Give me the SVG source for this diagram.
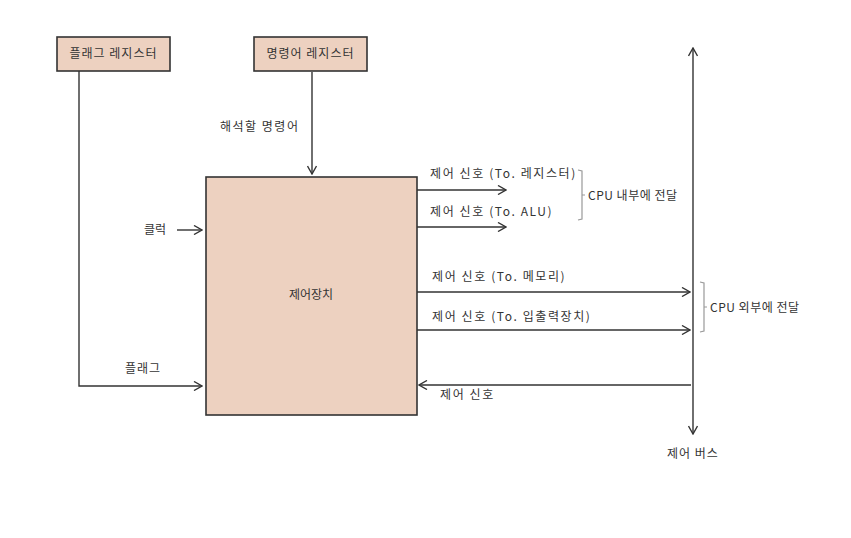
<svg xmlns="http://www.w3.org/2000/svg" width="851" height="538" viewBox="0 0 851 538">
<style>
.box{fill:#EDD1C0;stroke:#333;stroke-width:1.6}
.ln{fill:none;stroke:#333;stroke-width:1.4}
.br{fill:none;stroke:#999;stroke-width:1.2}
text{font-family:"Noto Sans CJK KR","Noto Sans",sans-serif;fill:#333;font-size:12px}
.sig{letter-spacing:1.6px}
</style>
<defs>
<marker id="ah" viewBox="0 0 10 10" refX="9" refY="5" markerWidth="10" markerHeight="10" markerUnits="userSpaceOnUse" orient="auto-start-reverse">
<path d="M1,0.5 L9,5 L1,9.5" fill="none" stroke="#333" stroke-width="1.4"/>
</marker>
</defs>
<rect width="851" height="538" fill="#fff"/>
<g id="flag-register">
<rect class="box" x="57" y="37" width="113" height="34"/>
<text x="113.5" y="58" text-anchor="middle" letter-spacing="1">플래그 레지스터</text>
</g>
<g id="instruction-register">
<rect class="box" x="254" y="37" width="113" height="34"/>
<text x="310.5" y="58" text-anchor="middle" letter-spacing="1">명령어 레지스터</text>
</g>
<g id="control-unit">
<rect class="box" x="206" y="177" width="211" height="238"/>
<text x="311" y="299" text-anchor="middle" font-size="13">제어장치</text>
</g>
<g id="control-bus">
<line class="ln" x1="693" y1="48" x2="693" y2="434" marker-start="url(#ah)" marker-end="url(#ah)"/>
<text x="667" y="458" letter-spacing="1">제어 버스</text>
</g>
<g id="connectors">
<polyline class="ln" points="79,71 79,386 202,386" marker-end="url(#ah)"/>
<line class="ln" x1="312" y1="72" x2="312" y2="174" marker-end="url(#ah)"/>
<line class="ln" x1="177" y1="230" x2="202" y2="230" marker-end="url(#ah)"/>
<line class="ln" x1="417" y1="190" x2="506" y2="190" marker-end="url(#ah)"/>
<line class="ln" x1="417" y1="227" x2="506" y2="227" marker-end="url(#ah)"/>
<line class="ln" x1="417" y1="292" x2="690" y2="292" marker-end="url(#ah)"/>
<line class="ln" x1="417" y1="330" x2="690" y2="330" marker-end="url(#ah)"/>
<line class="ln" x1="691" y1="385" x2="419" y2="385" marker-end="url(#ah)"/>
<path class="br" d="M578,170 L582,171 L582,219 L578,220 M582,195 L585,195"/>
<path class="br" d="M700,282 L704,283 L704,331 L700,332 M704,307 L707,307"/>
<text x="220" y="131" font-size="13" letter-spacing="1.5">해석할 명령어</text>
<text x="144" y="234" font-size="13">클럭</text>
<text x="125" y="373" font-size="13" letter-spacing="1">플래그</text>
<text class="sig" x="430" y="178">제어 신호 (To. 레지스터)</text>
<text class="sig" x="430" y="216">제어 신호 (To. ALU)</text>
<text x="588" y="200" letter-spacing="0.5">CPU 내부에 전달</text>
<text class="sig" x="432" y="281">제어 신호 (To. 메모리)</text>
<text class="sig" x="432" y="321">제어 신호 (To. 입출력장치)</text>
<text x="710" y="312" letter-spacing="0.5">CPU 외부에 전달</text>
<text class="sig" x="440" y="399">제어 신호</text>
</g>
</svg>
